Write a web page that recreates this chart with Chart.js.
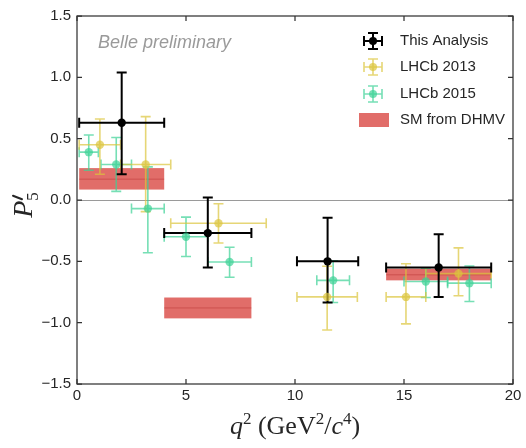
<!DOCTYPE html>
<html>
<head>
<meta charset="utf-8">
<script src="https://cdn.jsdelivr.net/npm/chart.js@4"></script>
<style>
  body { margin: 0; background: #fff; }
  #wrap { width: 526px; height: 448px; }
</style>
</head>
<body>
<div id="wrap"><canvas id="p5Chart" width="526" height="448"></canvas></div>
<script>
// Belle (this analysis)
const belleBins = [[0.1, 4.0], [4.0, 8.0], [10.09, 12.9], [14.18, 19.0]];
const belleY = [0.63, -0.27, -0.50, -0.55];
const belleUp = [0.41, 0.29, 0.355, 0.27];
const belleDown = [0.42, 0.28, 0.335, 0.24];

// LHCb 2013
const lhcb13Bins = [[0.1, 2.0], [2.0, 4.3], [4.3, 8.68], [10.09, 12.86], [14.18, 16.0], [16.0, 19.0]];
const lhcb13Y = [0.45, 0.29, -0.19, -0.79, -0.79, -0.60];
const lhcb13Up = [0.21, 0.39, 0.16, 0.25, 0.27, 0.21];
const lhcb13Down = [0.24, 0.385, 0.16, 0.27, 0.22, 0.18];

// LHCb 2015
const lhcb15Bins = [[0.1, 0.98], [1.1, 2.5], [2.5, 4.0], [4.0, 6.0], [6.0, 8.0], [11.0, 12.5], [15.0, 17.0], [17.0, 19.0]];
const lhcb15Y = [0.39, 0.29, -0.07, -0.30, -0.505, -0.655, -0.665, -0.678];
const lhcb15Up = [0.14, 0.22, 0.34, 0.16, 0.12, 0.16, 0.11, 0.14];
const lhcb15Down = [0.147, 0.22, 0.36, 0.16, 0.125, 0.18, 0.13, 0.15];

// SM prediction (DHMV)
const smBins = [[0.1, 4.0], [4.0, 8.0], [14.18, 19.0]];
const smLow = [0.085, -0.965, -0.655];
const smHigh = [0.26, -0.795, -0.56];
const smCentral = [0.17, -0.88, -0.61];

const xTicks = [0, 5, 10, 15, 20];
const yTicks = [-1.5, -1.0, -0.5, 0.0, 0.5, 1.0, 1.5];

const BLACK = '#000000';
const YELLOW = 'rgba(220,196,60,0.7)';
const GREEN = 'rgba(60,210,150,0.7)';
const RED = 'rgba(215,60,55,0.75)';
const RED_LINE = 'rgba(180,45,45,0.45)';
const TEXT = '#262626';
const SANS = '"Liberation Sans", Arial, sans-serif';
const SERIF = '"Liberation Serif", "Times New Roman", serif';

function toPoints(bins, ys) {
    return bins.map((b, i) => ({ x: (b[0] + b[1]) / 2, y: ys[i] }));
}

const series = [
    { label: 'This Analysis', bins: belleBins, y: belleY, up: belleUp, down: belleDown, color: BLACK, lw: 2 },
    { label: 'LHCb 2013', bins: lhcb13Bins, y: lhcb13Y, up: lhcb13Up, down: lhcb13Down, color: YELLOW, lw: 1.6 },
    { label: 'LHCb 2015', bins: lhcb15Bins, y: lhcb15Y, up: lhcb15Up, down: lhcb15Down, color: GREEN, lw: 1.6 }
];

function drawErrorBar(ctx, x0, x1, xc, yc, yTop, yBot, color, lw) {
    const cap = 5;
    ctx.save();
    ctx.strokeStyle = color;
    ctx.lineWidth = lw;
    ctx.beginPath();
    ctx.moveTo(x0, yc); ctx.lineTo(x1, yc);
    ctx.moveTo(xc, yTop); ctx.lineTo(xc, yBot);
    // caps
    ctx.moveTo(x0, yc - cap); ctx.lineTo(x0, yc + cap);
    ctx.moveTo(x1, yc - cap); ctx.lineTo(x1, yc + cap);
    ctx.moveTo(xc - cap, yTop); ctx.lineTo(xc + cap, yTop);
    ctx.moveTo(xc - cap, yBot); ctx.lineTo(xc + cap, yBot);
    ctx.stroke();
    ctx.restore();
}

// draw a run of text pieces (font, text, dy) centred on cx
function drawPieces(ctx, pieces, cx, baseline) {
    let total = 0;
    pieces.forEach(p => { ctx.font = p.font; total += ctx.measureText(p.t).width; });
    let x = cx - total / 2;
    ctx.textAlign = 'left';
    ctx.textBaseline = 'alphabetic';
    pieces.forEach(p => {
        ctx.font = p.font;
        ctx.fillText(p.t, x, baseline + (p.dy || 0));
        x += ctx.measureText(p.t).width;
    });
}

const p5Plugin = {
    id: 'p5Plugin',
    beforeDatasetsDraw(chart) {
        const { ctx, chartArea: a, scales: { x, y } } = chart;
        ctx.save();
        ctx.beginPath();
        ctx.rect(a.left, a.top, a.right - a.left, a.bottom - a.top);
        ctx.clip();

        // zero line
        ctx.strokeStyle = '#9a9a9a';
        ctx.lineWidth = 1;
        ctx.beginPath();
        ctx.moveTo(a.left, Math.round(y.getPixelForValue(0)) + 0.5);
        ctx.lineTo(a.right, Math.round(y.getPixelForValue(0)) + 0.5);
        ctx.stroke();

        // SM boxes
        smBins.forEach((b, i) => {
            const x0 = x.getPixelForValue(b[0]);
            const x1 = x.getPixelForValue(b[1]);
            const yt = y.getPixelForValue(smHigh[i]);
            const yb = y.getPixelForValue(smLow[i]);
            ctx.fillStyle = RED;
            ctx.fillRect(x0, yt, x1 - x0, yb - yt);
            const yc = y.getPixelForValue(smCentral[i]);
            ctx.strokeStyle = RED_LINE;
            ctx.lineWidth = 1;
            ctx.beginPath();
            ctx.moveTo(x0, yc); ctx.lineTo(x1, yc);
            ctx.stroke();
        });

        // error bars, back to front
        for (let s = series.length - 1; s >= 0; s--) {
            const d = series[s];
            d.bins.forEach((b, i) => {
                const xc = x.getPixelForValue((b[0] + b[1]) / 2);
                drawErrorBar(ctx,
                    x.getPixelForValue(b[0]), x.getPixelForValue(b[1]), xc,
                    y.getPixelForValue(d.y[i]),
                    y.getPixelForValue(d.y[i] + d.up[i]),
                    y.getPixelForValue(d.y[i] - d.down[i]),
                    d.color, d.lw);
            });
        }
        ctx.restore();
    },
    afterDraw(chart) {
        const { ctx, chartArea: a, scales: { x, y } } = chart;
        ctx.save();

        // frame
        ctx.strokeStyle = '#333333';
        ctx.lineWidth = 1.25;
        ctx.strokeRect(a.left, a.top, a.right - a.left, a.bottom - a.top);

        // inward ticks on all four sides
        const tl = 5;
        ctx.beginPath();
        xTicks.forEach(v => {
            const px = x.getPixelForValue(v);
            ctx.moveTo(px, a.bottom); ctx.lineTo(px, a.bottom - tl);
            ctx.moveTo(px, a.top); ctx.lineTo(px, a.top + tl);
        });
        yTicks.forEach(v => {
            const py = y.getPixelForValue(v);
            ctx.moveTo(a.left, py); ctx.lineTo(a.left + tl, py);
            ctx.moveTo(a.right, py); ctx.lineTo(a.right - tl, py);
        });
        ctx.stroke();

        // Belle preliminary
        ctx.fillStyle = '#9a9a9a';
        ctx.font = 'italic 18px ' + SANS;
        ctx.textAlign = 'left';
        ctx.textBaseline = 'alphabetic';
        ctx.fillText('Belle preliminary', 98, 48);

        // legend
        const lx = 373, rows = [41, 67, 94, 120];
        ctx.font = '15px ' + SANS;
        series.forEach((d, i) => {
            const ly = rows[i];
            drawErrorBar(ctx, lx - 9, lx + 9, lx, ly, ly - 8, ly + 8, d.color, d.lw);
            ctx.fillStyle = d.color;
            ctx.beginPath();
            ctx.arc(lx, ly, 4, 0, Math.PI * 2);
            ctx.fill();
            ctx.fillStyle = TEXT;
            ctx.textBaseline = 'middle';
            ctx.fillText(d.label, 400, ly);
        });
        ctx.fillStyle = RED;
        ctx.fillRect(359, rows[3] - 7, 30, 14);
        ctx.fillStyle = TEXT;
        ctx.textBaseline = 'middle';
        ctx.fillText('SM from DHMV', 400, rows[3]);

        // x-axis title: q^2 (GeV^2/c^4)
        ctx.fillStyle = TEXT;
        const big = '26px ' + SERIF, bigI = 'italic 26px ' + SERIF, sup = '17px ' + SERIF;
        drawPieces(ctx, [
            { t: 'q', font: bigI },
            { t: '2', font: sup, dy: -10 },
            { t: ' (GeV', font: big },
            { t: '2', font: sup, dy: -10 },
            { t: '/', font: big },
            { t: 'c', font: bigI },
            { t: '4', font: sup, dy: -10 },
            { t: ')', font: big }
        ], (a.left + a.right) / 2, 434);

        // y-axis title: P'_5 (prime and subscript stacked)
        ctx.translate(32, 205);
        ctx.rotate(-Math.PI / 2);
        ctx.textAlign = 'left';
        ctx.textBaseline = 'alphabetic';
        const fP = 'italic 28px ' + SERIF, fS = '17px ' + SERIF;
        ctx.font = fP;
        const wP = ctx.measureText('P').width;
        ctx.font = fS;
        const wS = ctx.measureText('5').width;
        const x0 = -(wP + wS) / 2;
        ctx.font = fP;
        ctx.fillText('P', x0, 0);
        // prime drawn as a short slanted stroke
        ctx.strokeStyle = TEXT;
        ctx.lineWidth = 2;
        ctx.lineCap = 'round';
        ctx.beginPath();
        ctx.moveTo(x0 + wP + 5, -19);
        ctx.lineTo(x0 + wP + 1.5, -10);
        ctx.stroke();
        ctx.font = fS;
        ctx.fillText('5', x0 + wP, 6);

        ctx.restore();
    }
};

const ctx = document.getElementById('p5Chart').getContext('2d');
const p5Chart = new Chart(ctx, {
    type: 'scatter',
    data: {
        datasets: series.map(d => ({
            label: d.label,
            data: toPoints(d.bins, d.y),
            backgroundColor: d.color,
            borderColor: d.color,
            borderWidth: 0,
            pointRadius: 4.2,
            pointHoverRadius: 4.2
        }))
    },
    options: {
        responsive: false,
        animation: false,
        layout: { padding: { left: 0, right: 13, top: 16, bottom: 0 } },
        plugins: {
            legend: { display: false },
            tooltip: { enabled: false }
        },
        scales: {
            x: {
                type: 'linear',
                min: 0,
                max: 20,
                afterFit: (scale) => { scale.height = 64; },
                afterBuildTicks: (scale) => { scale.ticks = xTicks.map(v => ({ value: v })); },
                grid: { display: true, drawOnChartArea: false, drawTicks: false },
                border: { display: false },
                ticks: {
                    padding: 3,
                    color: TEXT,
                    font: { family: SANS, size: 15 },
                    callback: (v) => String(v)
                }
            },
            y: {
                type: 'linear',
                min: -1.5,
                max: 1.5,
                afterFit: (scale) => { scale.width = 77; },
                afterBuildTicks: (scale) => { scale.ticks = yTicks.map(v => ({ value: v })); },
                grid: { display: true, drawOnChartArea: false, drawTicks: false },
                border: { display: false },
                ticks: {
                    padding: 6,
                    color: TEXT,
                    font: { family: SANS, size: 15 },
                    callback: (v) => Number(v).toFixed(1).replace('-', '\u2212')
                }
            }
        }
    },
    plugins: [p5Plugin]
});
</script>
</body>
</html>
